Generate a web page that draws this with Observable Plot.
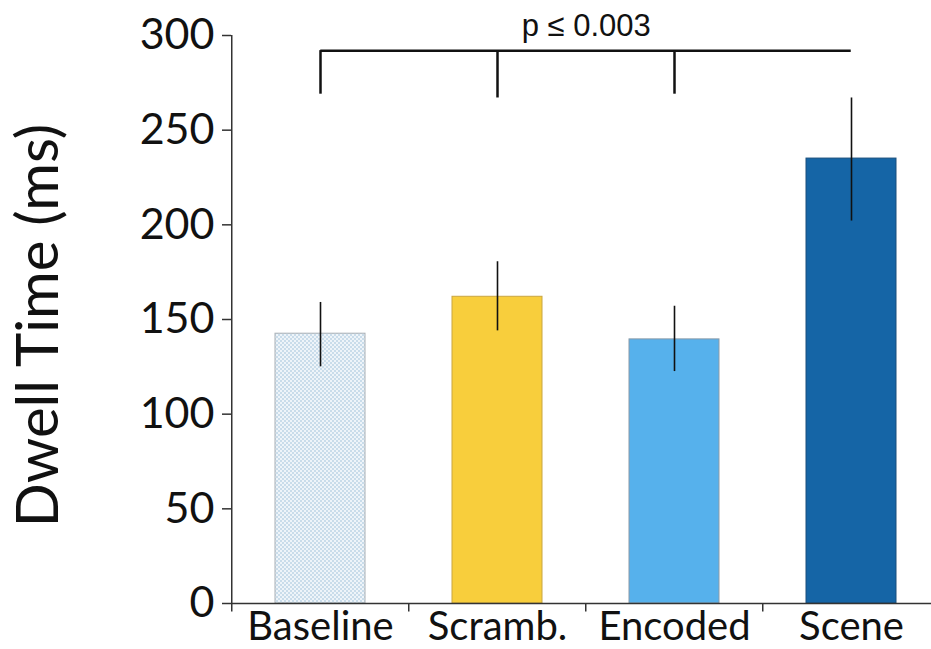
<!DOCTYPE html>
<html><head><meta charset="utf-8">
<script src="https://cdn.jsdelivr.net/npm/d3@7"></script>
<script src="https://cdn.jsdelivr.net/npm/@observablehq/plot@0.6"></script>
<style>body{margin:0;background:#fff;font-family:Lato,sans-serif}</style>
</head><body><div id="chart"></div>
<script>
const categories = ["Baseline", "Scramb.", "Encoded", "Scene"];
const means = [142.5, 162, 139.5, 235];
const errLow = [125, 144, 122.5, 202];
const errHigh = [159, 180.5, 157, 267];
const colors = ["url(#dotpat)", "#F8CE3C", "#56B1EC", "#1565A6"];
const strokes = ["#a9b0b5", "#c9a640", "#8a9aa8", "#1a4f7c"];
const yTicks = [0, 50, 100, 150, 200, 250, 300];
const bracketY = 292;
const bracketDrops = [{c: "Baseline", y: 269}, {c: "Scramb.", y: 267}, {c: "Encoded", y: 269}];
const pLabel = "p \u2264 0.003";
const yLabel = "Dwell Time (ms)";

const data = categories.map((c, i) => ({c, v: means[i], lo: errLow[i], hi: errHigh[i], fill: colors[i], stroke: strokes[i]}));
const step = (941 - 231) / categories.length;
const halfBar = step * (1 - 0.49) / 2;

const chart = Plot.plot({
  width: 931, height: 649,
  marginLeft: 231, marginRight: 0, marginTop: 35, marginBottom: 46,
  style: {fontFamily: "Lato, sans-serif", background: "white"},
  x: {domain: categories, range: [231, 941], paddingInner: 0.49, paddingOuter: 0.245, label: null},
  y: {domain: [0, 300], label: null},
  marks: [
    Plot.barY(data, {x: "c", y: "v", fill: "fill", stroke: "stroke", strokeWidth: 1}),
    Plot.ruleX(data, {x: "c", y1: "lo", y2: "hi", stroke: "#111", strokeWidth: 1.6}),
    Plot.ruleY([0], {stroke: "#333", strokeWidth: 1.5}),
    Plot.ruleX([categories[0]], {x: d => d, dx: -step / 2, y1: 0, y2: 300, stroke: "#333", strokeWidth: 1.5}),
    Plot.ruleX(categories, {x: d => d, dx: -step / 2, y1: 0, y2: -4.5, stroke: "#333", strokeWidth: 1.5}),
    Plot.axisY(yTicks, {tickSize: 9, tickPadding: 8, fontSize: 43, stroke: "#333", strokeWidth: 1.5, fill: "#111", label: null}),
    Plot.axisX({tickSize: 0, tickPadding: 8, fontSize: 40, fill: "#111", label: null}),
    Plot.ruleY([bracketY], {x1: () => categories[0], x2: () => categories[3], insetLeft: halfBar, insetRight: halfBar, stroke: "#111", strokeWidth: 2.5}),
    Plot.ruleX(bracketDrops, {x: "c", y1: "y", y2: bracketY, stroke: "#111", strokeWidth: 2.5}),
    Plot.text([pLabel], {x: () => categories[1], dx: step / 2, y: () => 300, dy: -9, fontSize: 31, fill: "#111", fontFamily: "Liberation Sans, Arial, sans-serif"}),
    Plot.text([yLabel], {frameAnchor: "left", textAnchor: "middle", rotate: -90, dx: -192, dy: 6, fontSize: 58, fill: "#111"})
  ]
});

const defs = d3.create("svg:defs");
const pat = defs.append("pattern").attr("id", "dotpat").attr("patternUnits", "userSpaceOnUse").attr("width", 4).attr("height", 4);
pat.append("rect").attr("width", 4).attr("height", 4).attr("fill", "#eef4f9");
pat.append("rect").attr("width", 2).attr("height", 2).attr("fill", "#c9dcea");
pat.append("rect").attr("x", 2).attr("y", 2).attr("width", 2).attr("height", 2).attr("fill", "#c9dcea");
chart.insertBefore(defs.node(), chart.firstChild);
document.getElementById("chart").append(chart);
</script></body></html>
